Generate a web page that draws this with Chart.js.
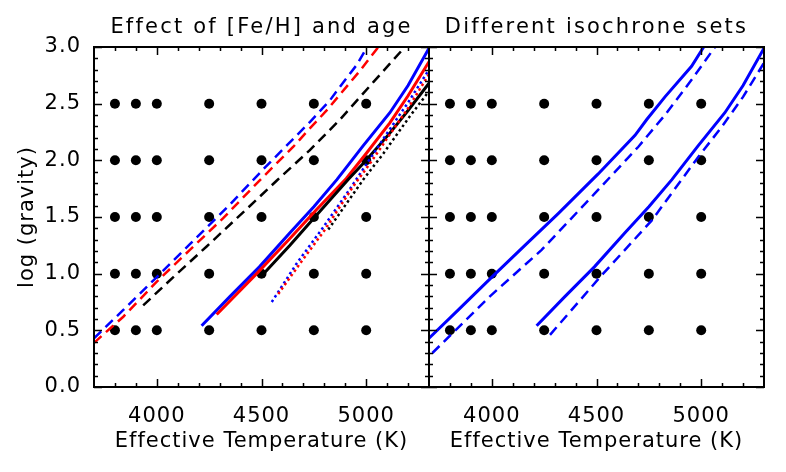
<!DOCTYPE html>
<html>
<head>
<meta charset="utf-8">
<title>Isochrones vs model grid</title>
<script src="https://cdn.jsdelivr.net/npm/chart.js@4/dist/chart.umd.min.js"></script>
<style>
  html, body { margin: 0; padding: 0; background: #fff; }
  #wrap { position: relative; width: 786px; height: 472px; overflow: hidden; background: #fff; }
  #chart-left  { position: absolute; left: 0;     top: 0; }
  #chart-right { position: absolute; left: 420px; top: 0; }
</style>
</head>
<body>
<div id="wrap">
  <canvas id="chart-left"  width="440" height="472"></canvas>
  <canvas id="chart-right" width="366" height="472"></canvas>
</div>
<script>
'use strict';

// ── Axis ranges and ticks ─────────────────────────────────────
const X_MIN = 3700, X_MAX = 5300;
const Y_MIN = 0,    Y_MAX = 3.0;

const xMajor = [4000, 4500, 5000];
const xMinor = [3800, 3900, 4100, 4200, 4300, 4400, 4600, 4700, 4800, 4900, 5100, 5200];
const yMajor = [0.0, 0.5, 1.0, 1.5, 2.0, 2.5, 3.0];
const yMinor = [0.1, 0.2, 0.3, 0.4, 0.6, 0.7, 0.8, 0.9, 1.1, 1.2, 1.3, 1.4,
                1.6, 1.7, 1.8, 1.9, 2.1, 2.2, 2.3, 2.4, 2.6, 2.7, 2.8, 2.9];

// ── Model atmosphere grid ─────────────────────────────────────
const gridTeff = [3800, 3900, 4000, 4250, 4500, 4750, 5000];
const gridLogg = [0.5, 1.0, 1.5, 2.0, 2.5];

// ── Isochrones, [Teff, log g] ─────────────────────────────────
// left panel
const dashBlue  = [[3700, 0.43], [3840, 0.68], [4000, 0.97], [4158, 1.26], [4349, 1.61], [4508, 1.92],
                   [4588, 2.07], [4732, 2.34], [4827, 2.53], [4875, 2.65], [4954, 2.84], [5005, 3.0]];
const dashRed   = [[3700, 0.39], [3840, 0.62], [4000, 0.93], [4158, 1.21], [4317, 1.49], [4500, 1.84],
                   [4652, 2.12], [4720, 2.26], [4811, 2.44], [4970, 2.79], [5058, 3.0]];
const dashBlack = [[3935, 0.72], [4079, 0.97], [4238, 1.24], [4429, 1.57], [4572, 1.82], [4731, 2.09],
                   [4875, 2.36], [5034, 2.69], [5185, 3.0]];
const solidBlue  = [[4214, 0.54], [4350, 0.80], [4490, 1.06], [4636, 1.36], [4750, 1.59], [4860, 1.83],
                    [4986, 2.13], [5113, 2.42], [5200, 2.66], [5300, 2.99]];
const solidRed   = [[4286, 0.64], [4477, 1.00], [4630, 1.30], [4760, 1.56], [4905, 1.84], [5000, 2.06],
                    [5113, 2.33], [5200, 2.57], [5300, 2.87]];
const solidBlack = [[4510, 1.00], [4636, 1.25], [4755, 1.50], [4914, 1.83], [5000, 2.00], [5113, 2.24],
                    [5200, 2.44], [5300, 2.68]];
const dotBlue  = [[4549, 0.75], [4668, 1.09], [4795, 1.41], [4923, 1.75], [5010, 1.99], [5100, 2.24],
                  [5200, 2.51], [5300, 2.80]];
const dotRed   = [[4580, 0.82], [4684, 1.09], [4800, 1.38], [4938, 1.77], [5025, 1.99], [5110, 2.22],
                  [5200, 2.46], [5300, 2.76]];
const dotBlack = [[4819, 1.39], [4986, 1.83], [5082, 2.06], [5209, 2.39], [5300, 2.61]];

// right panel: solid = first isochrone set, dashed = second set
const setAYoung = [[3700, 0.43], [3840, 0.68], [4000, 0.97], [4158, 1.25], [4317, 1.53], [4508, 1.88],
                   [4684, 2.22], [4740, 2.36], [4827, 2.56], [4954, 2.83], [5012, 3.0]];
const setAOld   = solidBlue;
const setBYoung = [[3716, 0.30], [3991, 0.80], [4238, 1.21], [4493, 1.71], [4700, 2.12], [4827, 2.40],
                   [4954, 2.71], [5066, 3.0]];
const setBOld   = [[4278, 0.46], [4517, 0.97], [4764, 1.47], [4986, 2.03], [5100, 2.30], [5200, 2.56],
                   [5300, 2.86]];

// ── Helpers ───────────────────────────────────────────────────
function el(id) { return document.getElementById(id); }

function pts(arr) { return arr.map(([x, y]) => ({ x, y })); }

function gridPoints() {
  const out = [];
  gridTeff.forEach((t) => gridLogg.forEach((g) => out.push({ x: t, y: g })));
  return out;
}

function gridSet() {
  return {
    data: gridPoints(),
    showLine: false,
    pointRadius: 5,
    pointBackgroundColor: '#000',
    pointBorderWidth: 0,
    order: 10,
  };
}

function lineSet(data, color, style) {
  const dash = style === 'dash' ? [10, 6] : style === 'dot' ? [2.5, 3] : [];
  return {
    data: pts(data),
    showLine: true,
    borderColor: color,
    borderWidth: style === 'solid' ? 3 : 2.5,
    borderDash: dash,
    pointRadius: 0,
    tension: 0,
    fill: false,
    order: 1,
  };
}

// ── Plugins ───────────────────────────────────────────────────
// IDL style box with ticks pointing inward on all four sides
const frameTicks = {
  id: 'frameTicks',
  afterDraw(chart) {
    const { ctx, chartArea: a, scales: { x, y } } = chart;
    ctx.save();
    ctx.strokeStyle = '#000';
    ctx.lineWidth = 1.5;
    ctx.beginPath();
    const tx = (v, len) => {
      const p = Math.round(x.getPixelForValue(v)) + 0.5;
      ctx.moveTo(p, a.bottom); ctx.lineTo(p, a.bottom - len);
      ctx.moveTo(p, a.top);    ctx.lineTo(p, a.top + len);
    };
    const ty = (v, len) => {
      const p = Math.round(y.getPixelForValue(v)) + 0.5;
      ctx.moveTo(a.left, p);  ctx.lineTo(a.left + len, p);
      ctx.moveTo(a.right, p); ctx.lineTo(a.right - len, p);
    };
    xMajor.forEach((v) => tx(v, 8));
    xMinor.forEach((v) => tx(v, 4));
    yMajor.forEach((v) => ty(v, 8));
    yMinor.forEach((v) => ty(v, 4));
    ctx.stroke();
    ctx.lineWidth = 2;
    ctx.strokeRect(a.left, a.top, a.right - a.left, a.bottom - a.top);
    ctx.restore();
  },
};

// the original lettering is wide: spread it, the panel titles (drawn last) a bit more
const spacing = {
  id: 'spacing',
  beforeDraw(chart)        { chart.ctx.letterSpacing = '1px'; },
  afterDatasetsDraw(chart) { chart.ctx.letterSpacing = '2.2px'; },
  afterDraw(chart)         { chart.ctx.letterSpacing = '0px'; },
};

Chart.defaults.font.family = '"DejaVu Sans", sans-serif';
Chart.defaults.font.size = 21;
Chart.defaults.color = '#000';

// ── Panel builder ─────────────────────────────────────────────
function buildPanel(canvasId, title, datasets, withYAxis, pad) {
  return new Chart(el(canvasId), {
    type: 'scatter',
    data: { datasets },
    options: {
      responsive: false,
      animation: false,
      events: [],
      layout: { padding: pad },
      plugins: {
        legend: { display: false },
        tooltip: { enabled: false },
      },
      scales: {
        x: {
          type: 'linear',
          min: X_MIN,
          max: X_MAX,
          grid: { display: false, drawTicks: false },
          border: { display: false },
          afterBuildTicks: (s) => { s.ticks = xMajor.map((v) => ({ value: v })); },
          afterFit: (s) => { s.height = 85; },
          ticks: { padding: 17, maxRotation: 0, autoSkip: false, callback: (v) => String(v) },
          title: { display: true, text: 'Effective Temperature (K)', padding: { top: 0, bottom: 18 } },
        },
        // top axis only carries the panel title, centred over the plot box;
        // its title is drawn with the grid layer, pushed after the datasets
        xt: {
          type: 'linear',
          position: 'top',
          min: X_MIN,
          max: X_MAX,
          grid: { display: false, drawTicks: false, z: 1 },
          border: { display: false },
          afterFit: (s) => { s.height = 47; },
          ticks: { display: false },
          title: { display: true, text: title, padding: { top: 15, bottom: 0 } },
        },
        y: {
          type: 'linear',
          display: withYAxis,
          min: Y_MIN,
          max: Y_MAX,
          grid: { display: false, drawTicks: false },
          border: { display: false },
          afterBuildTicks: (s) => { s.ticks = yMajor.map((v) => ({ value: v })); },
          afterFit: (s) => { s.width = withYAxis ? 94 : 0; },
          ticks: { padding: 13, autoSkip: false, callback: (v) => v.toFixed(1) },
          title: { display: true, text: 'log (gravity)', padding: { top: 15, bottom: 0 } },
        },
      },
    },
    plugins: [frameTicks, spacing],
  });
}

// ── Init ──────────────────────────────────────────────────────
buildPanel('chart-left', 'Effect of [Fe/H] and age', [
  gridSet(),
  lineSet(dashBlack,  '#000000', 'dash'),
  lineSet(dashRed,    '#ff0000', 'dash'),
  lineSet(dashBlue,   '#0000ff', 'dash'),
  lineSet(dotBlack,   '#000000', 'dot'),
  lineSet(dotRed,     '#ff0000', 'dot'),
  lineSet(dotBlue,    '#0000ff', 'dot'),
  lineSet(solidBlack, '#000000', 'solid'),
  lineSet(solidRed,   '#ff0000', 'solid'),
  lineSet(solidBlue,  '#0000ff', 'solid'),
], true, { left: 0, right: 11, top: 0, bottom: 0 });

buildPanel('chart-right', 'Different isochrone sets', [
  gridSet(),
  lineSet(setBYoung, '#0000ff', 'dash'),
  lineSet(setBOld,   '#0000ff', 'dash'),
  lineSet(setAYoung, '#0000ff', 'solid'),
  lineSet(setAOld,   '#0000ff', 'solid'),
], false, { left: 9, right: 22, top: 0, bottom: 0 });
</script>
</body>
</html>
